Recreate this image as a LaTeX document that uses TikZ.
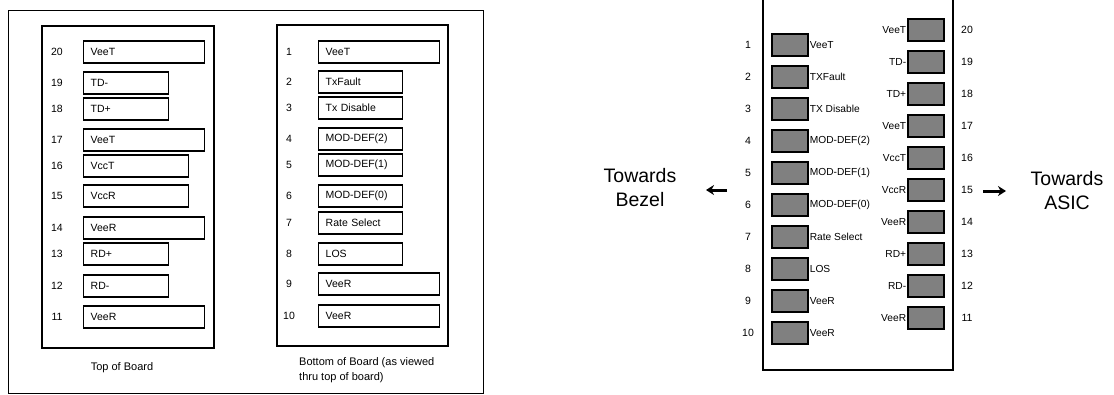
\documentclass[tikz,border=0pt]{standalone}
\usepackage{fontspec}
\setmainfont{Liberation Sans}
\usetikzlibrary{arrows.meta}

\tikzset{
  pinbox/.style={draw, line width=1.4pt, anchor=west, minimum height=22pt,
    inner xsep=7pt, inner ysep=0pt, align=left, font=\fontsize{10.5}{12}\selectfont},
  pinnum/.style={font=\fontsize{10.5}{12}\selectfont},
  padbox/.style={draw, line width=1.3pt, fill=gray, minimum width=36pt,
    minimum height=22pt, inner sep=0pt},
  padname/.style={inner sep=1pt, font=\fontsize{10.2}{11}\selectfont},
  dirarrow/.style={line width=3pt, -{Stealth[length=8pt, width=10pt]}},
  towards/.style={align=center, font=\fontsize{19.5}{24}\selectfont}
}

\begin{document}
\begin{tikzpicture}[x=1pt, y=-1pt]
  \useasboundingbox (0,0) rectangle (1114,394);

  % left figure: top and bottom of board
  \draw [line width=1pt] (8,10) rectangle (483,393);       % outer frame
  \draw [line width=1.3pt] (42,26) rectangle (214,348);    % top of board
  \draw [line width=1.3pt] (277,25) rectangle (448,346);   % bottom of board

  \foreach \n/\y/\txt/\w in {20/52/VeeT/107, 19/83/TD-/71, 18/109/TD+/71,
      17/140/VeeT/107, 16/166/VccT/91, 15/196/VccR/91, 14/228/VeeR/107,
      13/254/RD+/71, 12/286/RD-/71, 11/317/VeeR/107}{
    \node [pinnum] (tn\n) at (57,\y) {\n};                  % pin number
    \node [pinbox, text width=\w pt] (t\n) at (83,\y) {\txt};
  }
  \foreach \n/\y/\txt/\w in {1/52/VeeT/107, 2/82/TxFault/70, 3/108/Tx Disable/70,
      4/139/MOD-DEF(2)/70, 5/165/MOD-DEF(1)/70, 6/196/MOD-DEF(0)/70,
      7/223/Rate Select/70, 8/254/LOS/70, 9/284/VeeR/107, 10/316/VeeR/107}{
    \node [pinnum] (bn\n) at (289,\y) {\n};
    \node [pinbox, text width=\w pt] (b\n) at (318,\y) {\txt};
  }

  \node [pinnum, font=\fontsize{11}{12}\selectfont] (topcap) at (122,368) {Top of Board};
  \node [pinnum, anchor=west, align=left, inner xsep=0pt,
    font=\fontsize{11}{15}\selectfont] (botcap) at (299,370)
    {Bottom of Board (as viewed\\thru top of board)};

  % right figure: host connector
  \draw [line width=1.3pt] (763,0) -- (763,370) -- (953,370) -- (953,0);

  \foreach \n/\txt in {1/VeeT, 2/TXFault, 3/TX Disable, 4/MOD-DEF(2), 5/MOD-DEF(1),
      6/MOD-DEF(0), 7/Rate Select, 8/LOS, 9/VeeR, 10/VeeR}{
    \pgfmathsetmacro\y{45+32*(\n-1)}
    \node [pinnum] (ln\n) at (748,\y) {\n};
    \node [padbox] (lp\n) at (790,\y) {};
    \node [padname, anchor=west] (lt\n) at (lp\n.east) {\txt};
  }
  \foreach \n/\txt [count=\k from 0] in {20/VeeT, 19/TD-, 18/TD+, 17/VeeT, 16/VccT,
      15/VccR, 14/VeeR, 13/RD+, 12/RD-, 11/VeeR}{
    \pgfmathsetmacro\y{30+32*\k}
    \node [padbox] (rp\n) at (926,\y) {};
    \node [padname, anchor=east] (rt\n) at (rp\n.west) {\txt};
    \node [pinnum] (rn\n) at (967,\y) {\n};
  }

  % directions
  \node [towards] (bezel) at (640,188) {Towards\\Bezel};
  \node [towards] (asic) at (1067,191) {Towards\\ASIC};
  \coordinate (bzlfrom) at (727,190);
  \coordinate (bzlto) at (706,190);
  \coordinate (asicfrom) at (983,191);
  \coordinate (asicto) at (1006,191);
  \draw [dirarrow] (bzlfrom) -- (bzlto);
  \draw [dirarrow] (asicfrom) -- (asicto);
\end{tikzpicture}
\end{document}
